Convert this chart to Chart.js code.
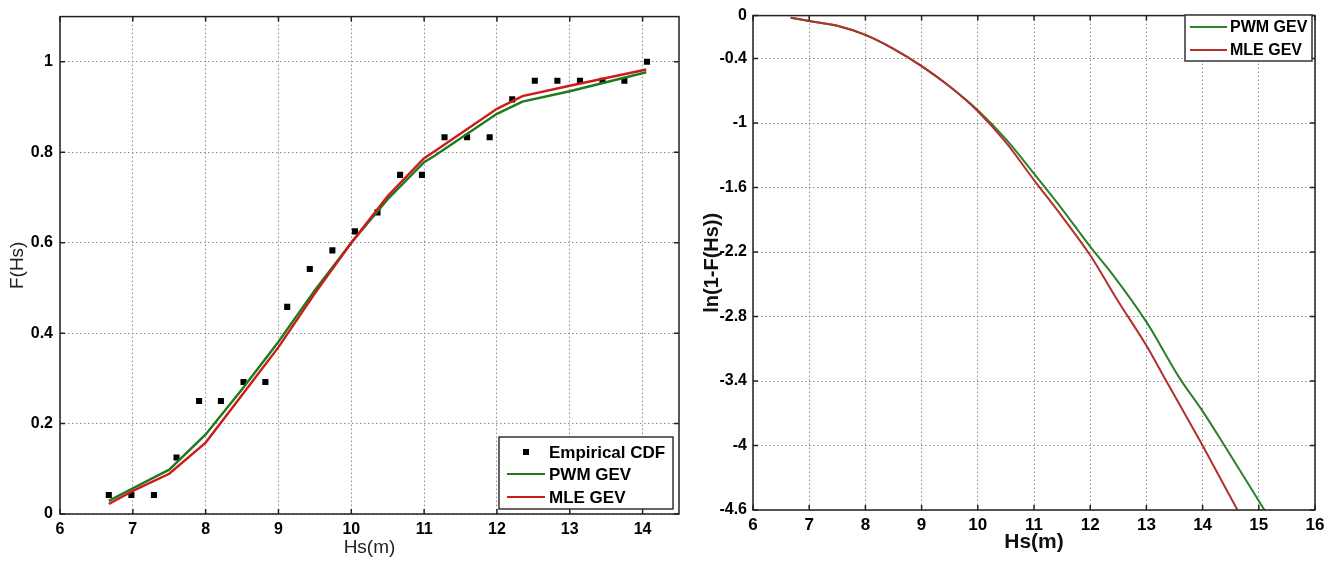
<!DOCTYPE html>
<html>
<head>
<meta charset="utf-8">
<script src="https://cdn.jsdelivr.net/npm/chart.js@4.4.1/dist/chart.umd.min.js"></script>
<style>
body { margin: 0; background: #fff; width: 1341px; height: 563px; overflow: hidden; position: relative; }
#cdf { position: absolute; left: 0; top: 0; }
#lnc { position: absolute; left: 690px; top: 0; }
</style>
</head>
<body>
<canvas id="cdf" width="700" height="563"></canvas>
<canvas id="lnc" width="651" height="563"></canvas>
<script>
// empirical CDF points
var empHs = [6.67, 6.98, 7.29, 7.60, 7.91, 8.21, 8.52, 8.82, 9.12, 9.43, 9.74, 10.05, 10.36,
             10.67, 10.97, 11.28, 11.59, 11.90, 12.21, 12.52, 12.83, 13.14, 13.45, 13.75, 14.06];
var empF = [0.042, 0.042, 0.042, 0.125, 0.25, 0.25, 0.292, 0.292, 0.458, 0.542, 0.583, 0.625, 0.667,
            0.75, 0.75, 0.833, 0.833, 0.833, 0.917, 0.958, 0.958, 0.958, 0.958, 0.958, 1.0];

// fitted CDFs (left panel)
var fitHs = [6.67, 7.0, 7.5, 8.0, 8.5, 9.0, 9.5, 10.0, 10.5, 11.0, 11.15, 12.0, 12.35, 13.0, 14.05];
var pwmF  = [0.029, 0.057, 0.098, 0.176, 0.276, 0.381, 0.495, 0.600, 0.696, 0.778, 0.793, 0.885, 0.912, 0.935, 0.977];
var mleF  = [0.022, 0.051, 0.089, 0.158, 0.263, 0.369, 0.488, 0.600, 0.703, 0.787, 0.803, 0.896, 0.924, 0.947, 0.983];

// ln(1-F) curves (right panel)
var pwmLnHs = [6.67, 7.0, 7.5, 8.0, 8.5, 9.0, 9.5, 10.0, 10.5, 11.0, 11.5, 12.0, 12.4, 13.0, 13.6, 14.0, 14.4, 15.1];
var pwmLn   = [-0.02, -0.05, -0.095, -0.18, -0.31, -0.47, -0.66, -0.88, -1.15, -1.47, -1.80, -2.15, -2.41, -2.85, -3.38, -3.68, -4.01, -4.6];
var mleLnHs = [6.67, 7.0, 7.5, 8.0, 8.5, 9.0, 9.5, 10.0, 10.5, 11.0, 11.5, 12.0, 12.5, 13.0, 13.3, 13.7, 14.0, 14.62];
var mleLn   = [-0.02, -0.05, -0.095, -0.18, -0.31, -0.47, -0.66, -0.89, -1.18, -1.53, -1.87, -2.23, -2.66, -3.07, -3.35, -3.72, -4.0, -4.6];

var cdfXTicks = [6, 7, 8, 9, 10, 11, 12, 13, 14];
var cdfYTicks = [0, 0.2, 0.4, 0.6, 0.8, 1];
var lnXTicks = [6, 7, 8, 9, 10, 11, 12, 13, 14, 15, 16];
var lnYTicks = [0, -0.4, -1, -1.6, -2.2, -2.8, -3.4, -4, -4.6];

function pts(xs, ys) {
  return xs.map(function (x, i) { return { x: x, y: ys[i] }; });
}
function fixTicks(list) {
  return function (scale) { scale.ticks = list.map(function (v) { return { value: v }; }); };
}
function fmt(v) { return String(Math.round(v * 10) / 10); }

// box round the plot with inward tick marks
var boxPlugin = {
  id: 'box',
  afterDraw: function (chart) {
    var c = chart.ctx, a = chart.chartArea;
    var xs = chart.scales.x, ys = chart.scales.y;
    c.save();
    c.strokeStyle = '#222';
    c.lineWidth = 1.5;
    c.strokeRect(a.left, a.top, a.right - a.left, a.bottom - a.top);
    c.beginPath();
    xs.ticks.forEach(function (t) {
      var px = xs.getPixelForValue(t.value);
      c.moveTo(px, a.bottom); c.lineTo(px, a.bottom - 5);
      c.moveTo(px, a.top); c.lineTo(px, a.top + 5);
    });
    ys.ticks.forEach(function (t) {
      var py = ys.getPixelForValue(t.value);
      c.moveTo(a.left, py); c.lineTo(a.left + 5, py);
      c.moveTo(a.right, py); c.lineTo(a.right - 5, py);
    });
    c.stroke();
    c.restore();
  }
};

// matlab style legend box
var boxLegend = {
  id: 'boxLegend',
  afterDraw: function (chart, args, o) {
    var c = chart.ctx;
    c.save();
    c.fillStyle = '#fff';
    c.fillRect(o.x, o.y, o.w, o.h);
    c.strokeStyle = '#333';
    c.lineWidth = 1.5;
    c.strokeRect(o.x, o.y, o.w, o.h);
    c.font = o.font;
    c.textBaseline = 'middle';
    o.items.forEach(function (idx, i) {
      var ds = chart.data.datasets[idx];
      var y = o.rows[i];
      if (ds.showLine === false) {
        c.fillStyle = '#000';
        c.fillRect(o.lx0 + (o.lx1 - o.lx0) / 2 - 3, y - 3, 6, 6);
      } else {
        c.strokeStyle = ds.borderColor;
        c.lineWidth = 2;
        c.beginPath(); c.moveTo(o.lx0, y); c.lineTo(o.lx1, y); c.stroke();
      }
      c.fillStyle = '#000';
      c.fillText(ds.label, o.tx, y + 1);
    });
    c.restore();
  }
};

var gridStyle = { color: '#8a8a8a', lineWidth: 1, drawTicks: false };
var dash = [1.5, 2.5];

new Chart(document.getElementById('cdf'), {
  type: 'scatter',
  data: {
    datasets: [
      { label: 'MLE GEV', data: pts(fitHs, mleF), showLine: true, borderColor: '#cc1b1b',
        borderWidth: 2.4, pointRadius: 0, fill: false },
      { label: 'PWM GEV', data: pts(fitHs, pwmF), showLine: true, borderColor: '#1d7a1d',
        borderWidth: 2.4, pointRadius: 0, fill: false },
      { label: 'Empirical CDF', data: pts(empHs, empF), showLine: false, pointStyle: 'rect',
        pointRadius: 4.3, backgroundColor: '#000', borderColor: '#000', borderWidth: 0 }
    ]
  },
  options: {
    responsive: false,
    devicePixelRatio: 1,
    animation: false,
    layout: { padding: { top: 10, right: 21, left: 0, bottom: 0 } },
    plugins: {
      legend: { display: false },
      tooltip: { enabled: false },
      boxLegend: {
        x: 499, y: 437, w: 174, h: 72, rows: [452, 474, 497], items: [2, 1, 0],
        lx0: 507, lx1: 545, tx: 549, font: 'bold 17px "Liberation Sans", Arial, sans-serif'
      }
    },
    scales: {
      x: {
        type: 'linear', min: 6, max: 14.5,
        afterBuildTicks: fixTicks(cdfXTicks),
        afterFit: function (s) { s.height = 49; },
        grid: gridStyle,
        border: { display: false, dash: dash },
        ticks: { color: '#000', padding: 6, maxRotation: 0, callback: fmt,
                 font: { family: '"Liberation Sans", Arial, sans-serif', size: 16, weight: 'bold' } },
        title: { display: true, text: 'Hs(m)', color: '#222', padding: { top: 0, bottom: 4 },
                 font: { family: '"Liberation Sans", Arial, sans-serif', size: 19 } }
      },
      y: {
        type: 'linear', min: 0, max: 1.1,
        afterBuildTicks: fixTicks(cdfYTicks),
        afterFit: function (s) { s.width = 60; },
        grid: gridStyle,
        border: { display: false, dash: dash },
        ticks: { color: '#000', padding: 7, callback: fmt,
                 font: { family: '"Liberation Sans", Arial, sans-serif', size: 16, weight: 'bold' } },
        title: { display: true, text: 'F(Hs)', color: '#222', padding: { top: 6, bottom: 0 },
                 font: { family: '"Liberation Sans", Arial, sans-serif', size: 19 } }
      }
    }
  },
  plugins: [boxPlugin, boxLegend]
});

new Chart(document.getElementById('lnc'), {
  type: 'scatter',
  data: {
    datasets: [
      { label: 'MLE GEV', data: pts(mleLnHs, mleLn), showLine: true, borderColor: '#b52f2f',
        borderWidth: 2, pointRadius: 0, fill: false, cubicInterpolationMode: 'monotone' },
      { label: 'PWM GEV', data: pts(pwmLnHs, pwmLn), showLine: true, borderColor: '#2a822a',
        borderWidth: 2, pointRadius: 0, fill: false, cubicInterpolationMode: 'monotone' }
    ]
  },
  options: {
    responsive: false,
    devicePixelRatio: 1,
    animation: false,
    layout: { padding: { top: 9, right: 26, left: 0, bottom: 0 } },
    plugins: {
      legend: { display: false },
      tooltip: { enabled: false },
      boxLegend: {
        x: 495, y: 15, w: 127, h: 46, rows: [27, 50], items: [1, 0],
        lx0: 500, lx1: 537, tx: 540, font: 'bold 16px "Liberation Sans Narrow", "Liberation Sans", Arial, sans-serif'
      }
    },
    scales: {
      x: {
        type: 'linear', min: 6, max: 16,
        afterBuildTicks: fixTicks(lnXTicks),
        afterFit: function (s) { s.height = 53; },
        grid: gridStyle,
        border: { display: false, dash: dash },
        ticks: { color: '#000', padding: 5, maxRotation: 0, callback: fmt,
                 font: { family: '"Liberation Sans Narrow", "Liberation Sans", Arial, sans-serif', size: 17, weight: 'bold' } },
        title: { display: true, text: 'Hs(m)', color: '#111', padding: { top: 0, bottom: 8 },
                 font: { family: '"Liberation Sans Narrow", "Liberation Sans", Arial, sans-serif', size: 21, weight: 'bold' } }
      },
      y: {
        type: 'linear', min: -4.6, max: 0,
        afterBuildTicks: fixTicks(lnYTicks),
        afterFit: function (s) { s.width = 63; },
        grid: gridStyle,
        border: { display: false, dash: dash },
        ticks: { color: '#000', padding: 6, callback: fmt,
                 font: { family: '"Liberation Sans Narrow", "Liberation Sans", Arial, sans-serif', size: 16, weight: 'bold' } },
        title: { display: true, text: 'ln(1-F(Hs))', color: '#111', padding: { top: 10, bottom: 0 },
                 font: { family: '"Liberation Sans Narrow", "Liberation Sans", Arial, sans-serif', size: 20, weight: 'bold' } }
      }
    }
  },
  plugins: [boxPlugin, boxLegend]
});
</script>
</body>
</html>
